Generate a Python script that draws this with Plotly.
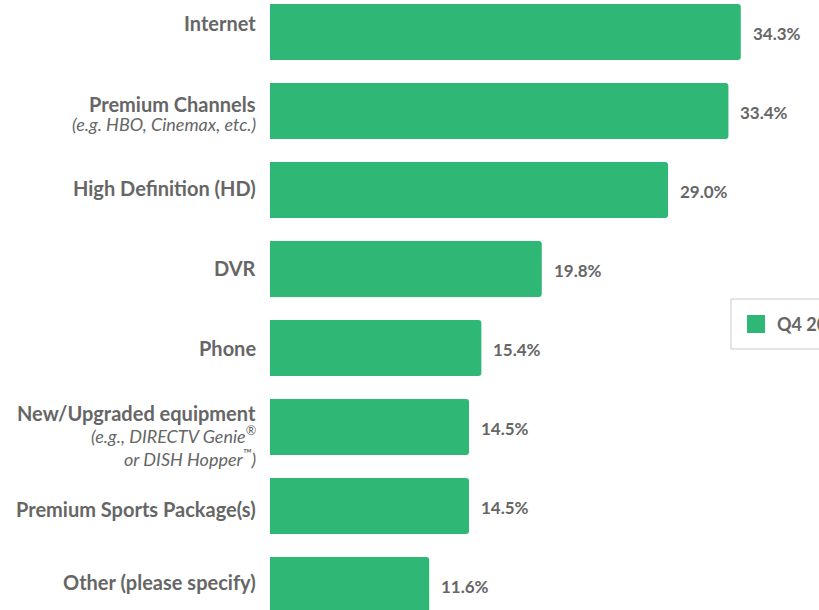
import plotly.graph_objects as go

# Survey: services/features subscribed to (share of respondents, %)
categories = [
    "Internet",
    "Premium Channels",
    "High Definition (HD)",
    "DVR",
    "Phone",
    "New/Upgraded equipment",
    "Premium Sports Package(s)",
    "Other (please specify)",
]
# explanatory italic lines printed under some category names
sub_lines = [
    [],
    ["(e.g. HBO, Cinemax, etc.)"],
    [],
    [],
    [],
    ["(e.g., DIRECTV Genie<sup>®</sup>", "or DISH Hopper<sup>™</sup>)"],
    [],
    [],
]
values = [34.3, 33.4, 29.0, 19.8, 15.4, 14.5, 14.5, 11.6]
series_name = "Q4 2014"

# vertical nudges (px, up = positive) for each category label block
label_shift = [9, -3, 2, 1, 0, -8, -3, 3]
# spacing (px) between stacked label lines of each block
line_gap = [21, 20, 21, 21, 21, 22.5, 21, 21]

GREEN = "#2eb775"
GRAY = "#666666"
FONT = "Lato"
LABEL_SIZE = 20
SUB_SIZE = 18
VALUE_SIZE = 17

fig = go.Figure()
fig.add_trace(go.Bar(
    x=values,
    y=categories,
    orientation="h",
    marker=dict(color=GREEN, line=dict(width=0)),
    name=series_name,
    showlegend=False,
    hoverinfo="skip",
))

annotations = []
for cat, subs, sh, gap in zip(categories, sub_lines, label_shift, line_gap):
    lines = [(f"<b>{cat}</b>", LABEL_SIZE)] + [(f"<i>{s}</i>", SUB_SIZE) for s in subs]
    n = len(lines)
    for i, (txt, size) in enumerate(lines):
        offset = ((n - 1) / 2 - i) * gap
        annotations.append(dict(
            x=0, xref="paper", y=cat, yref="y",
            text=txt, showarrow=False, xanchor="right", yanchor="middle",
            align="right", xshift=-12, yshift=sh + offset,
            font=dict(family=FONT, size=size, color=GRAY),
        ))
for cat, v in zip(categories, values):
    annotations.append(dict(
        x=v, xref="x", y=cat, yref="y",
        text=f"<b>{v:.1f}%</b>", showarrow=False, xanchor="left",
        yanchor="middle", xshift=10, yshift=-1,
        font=dict(family=FONT, size=VALUE_SIZE, color=GRAY),
    ))

# legend box
annotations.append(dict(
    x=0.9199, xref="paper", y=0.469, yref="paper",
    text=f"<b>{series_name}</b>", showarrow=False,
    xanchor="left", yanchor="middle",
    font=dict(family=FONT, size=18, color=GRAY),
))
shapes = [
    dict(type="rect", xref="paper", yref="paper",
         x0=0.8397, x1=1.2, y0=0.4279, y1=0.5098,
         line=dict(color="#cccccc", width=1), fillcolor="white", layer="below"),
    dict(type="rect", xref="paper", yref="paper",
         x0=0.8689, x1=0.9017, y0=0.4541, y1=0.4836,
         line=dict(width=0), fillcolor=GREEN),
]

fig.update_layout(
    width=819, height=610,
    margin=dict(l=270, r=0, t=0, b=0),
    paper_bgcolor="white", plot_bgcolor="white",
    bargap=0.291,
    barcornerradius=3,
    showlegend=False,
    xaxis=dict(range=[0, 40], visible=False, fixedrange=True),
    yaxis=dict(categoryorder="array", categoryarray=categories,
               range=[7.316, -0.405], showticklabels=False,
               showgrid=False, zeroline=False, showline=False, ticks=""),
    annotations=annotations,
    shapes=shapes,
    font=dict(family=FONT, color=GRAY),
)

fig.write_html("out.html")
